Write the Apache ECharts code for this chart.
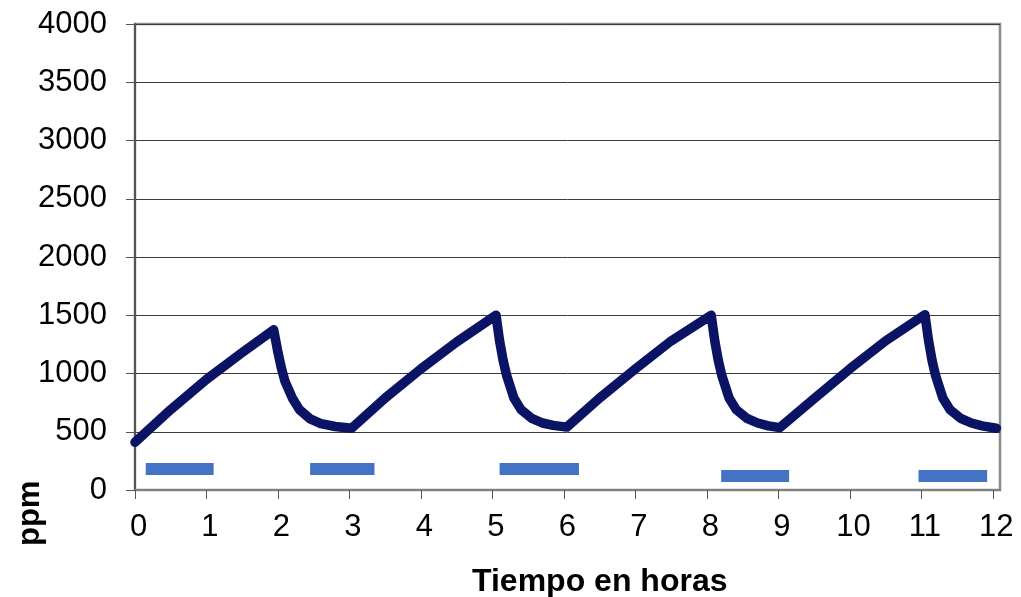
<!DOCTYPE html>
<html>
<head>
<meta charset="utf-8">
<title>ppm</title>
<script src="https://cdn.jsdelivr.net/npm/echarts@6/dist/echarts.min.js"></script>
<style>
  html, body { margin: 0; padding: 0; background: #fff; }
  #main { width: 1021px; height: 597px; }
</style>
</head>
<body>
<div id="main"></div>
<script>
// etiquetas del eje x (horas)
var hourTicks = [0, 1, 2, 3, 4, 5, 6, 7, 8, 9, 10, 11, 12];

// curva de CO2 (ppm)
var timeH = [
  0, 0.5, 1.0, 1.5, 1.94,
  2.0, 2.05, 2.1, 2.2, 2.3, 2.45, 2.6, 2.8, 3.03,
  3.5, 4.0, 4.5, 5.05,
  5.1, 5.15, 5.2, 5.3, 5.4, 5.55, 5.7, 5.85, 6.04,
  6.5, 7.0, 7.5, 8.06,
  8.11, 8.16, 8.21, 8.31, 8.41, 8.56, 8.71, 8.86, 9.02,
  9.5, 10.0, 10.5, 11.05,
  11.1, 11.15, 11.2, 11.3, 11.4, 11.55, 11.7, 11.85, 12.05
];
var ppm = [
  410, 690, 950, 1180, 1375,
  1180, 1040, 930, 790, 690, 610, 570, 545, 530,
  790, 1040, 1270, 1500,
  1280, 1110, 980, 790, 690, 615, 575, 555, 540,
  790, 1040, 1280, 1500,
  1280, 1110, 980, 790, 690, 615, 575, 550, 535,
  785, 1040, 1280, 1505,
  1285, 1110, 980, 790, 690, 615, 575, 550, 530
];

// barras azules (periodos)
var barStart = [0.15, 2.45, 5.10, 8.20, 10.96];
var barEnd   = [1.10, 3.35, 6.21, 9.15, 11.92];
var barLevel = [180, 180, 180, 120, 120];

var myChart = echarts.init(document.getElementById('main'));

var curve = timeH.map(function (t, i) { return [t, ppm[i]]; });

var barSeries = barStart.map(function (s, i) {
  return {
    type: 'line',
    data: [[s, barLevel[i]], [barEnd[i], barLevel[i]]],
    showSymbol: false,
    silent: true,
    z: 2,
    lineStyle: { color: '#4472c4', width: 12, cap: 'butt' }
  };
});

myChart.setOption({
  backgroundColor: '#fff',
  animation: false,
  textStyle: { fontFamily: 'Liberation Sans, Arial, sans-serif' },
  grid: {
    left: 135, right: 21, top: 24, bottom: 107,
    show: true,
    borderColor: '#8c8c8c',
    borderWidth: 2.5
  },
  xAxis: {
    type: 'value',
    min: 0,
    max: 12.1,
    axisLine: { show: true, lineStyle: { color: '#808080', width: 2 } },
    axisTick: {
      show: true, length: 9, customValues: hourTicks,
      lineStyle: { color: '#555', width: 1 }
    },
    axisLabel: {
      customValues: hourTicks,
      fontSize: 31, color: '#000', margin: 22,
      padding: [0, 0, 0, 7]
    },
    splitLine: { show: false }
  },
  yAxis: {
    type: 'value',
    min: 0,
    max: 4000,
    interval: 500,
    axisLine: { show: true, lineStyle: { color: '#555', width: 2 } },
    axisTick: { show: true, length: 9, lineStyle: { color: '#555', width: 1 } },
    axisLabel: {
      fontSize: 31, color: '#000', margin: 28,
      formatter: function (v) { return String(v); }
    },
    splitLine: { show: true, lineStyle: { color: '#3c3c3c', width: 1 } }
  },
  graphic: [
    {
      type: 'text',
      left: 472, top: 566,
      style: {
        text: 'Tiempo en horas',
        font: 'bold 32px "Liberation Sans", Arial, sans-serif',
        fill: '#000'
      }
    },
    {
      type: 'text',
      x: 15, y: 546,
      rotation: Math.PI / 2,
      style: {
        text: 'ppm',
        font: 'bold 31px "Liberation Sans", Arial, sans-serif',
        fill: '#000'
      }
    }
  ],
  series: [
    {
      type: 'line',
      data: curve,
      showSymbol: false,
      silent: true,
      z: 3,
      lineStyle: { color: '#0b1464', width: 9.5, join: 'round', cap: 'round' }
    }
  ].concat(barSeries)
});

window.addEventListener('resize', function () {
  myChart.resize();
});
</script>
</body>
</html>
